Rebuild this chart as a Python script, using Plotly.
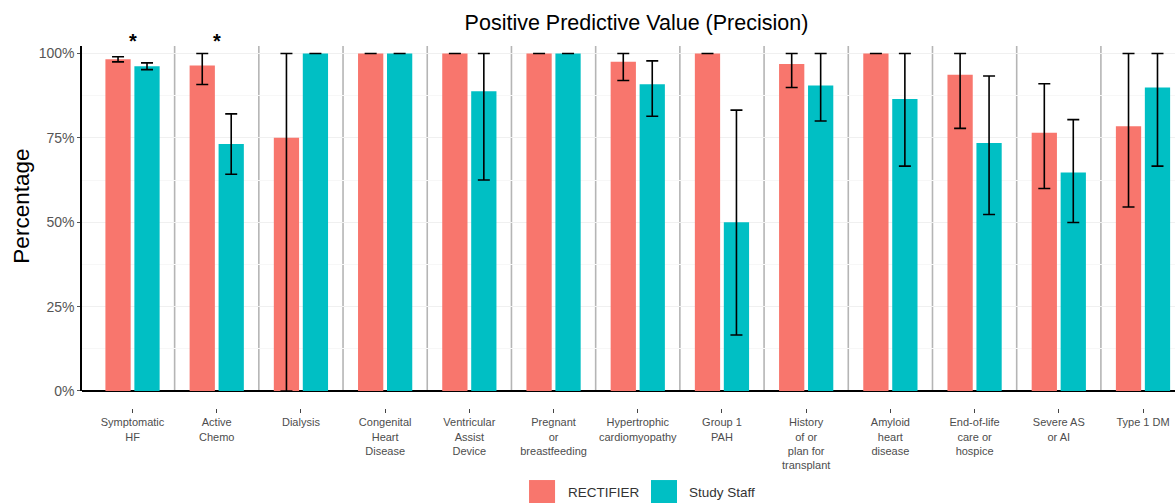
import plotly.graph_objects as go

categories = ["Symptomatic<br>HF", "Active<br>Chemo", "Dialysis", "Congenital<br>Heart<br>Disease",
              "Ventricular<br>Assist<br>Device", "Pregnant<br>or<br>breastfeeding",
              "Hypertrophic<br>cardiomyopathy", "Group 1<br>PAH", "History<br>of or<br>plan for<br>transplant",
              "Amyloid<br>heart<br>disease", "End-of-life<br>care or<br>hospice", "Severe AS<br>or AI", "Type 1 DM"]

rect_val = [98.3, 96.4, 75.0, 100, 100, 100, 97.5, 100, 96.9, 100, 93.7, 76.5, 78.4]
rect_lo = [97.5, 90.8, 0.0, 100, 100, 100, 92.0, 100, 89.9, 100, 77.8, 60.0, 54.5]
rect_hi = [99.0, 100, 100, 100, 100, 100, 100, 100, 100, 100, 100, 91.0, 100]

staff_val = [96.2, 73.2, 100, 100, 88.8, 100, 90.9, 50.0, 90.5, 86.5, 73.5, 64.7, 89.9]
staff_lo = [95.2, 64.2, 100, 100, 62.5, 100, 81.4, 16.6, 80.0, 66.6, 52.3, 49.9, 66.6]
staff_hi = [97.2, 82.1, 100, 100, 100, 100, 97.8, 83.2, 100, 100, 93.3, 80.4, 100]

significant = [categories[0], categories[1]]

y_ticks = [0, 25, 50, 75, 100]
y_ticklabels = ["0%", "25%", "50%", "75%", "100%"]

series_names = ["RECTIFIER", "Study Staff"]
colors = ["#F8766D", "#00BFC4"]

Y_TOP = 102.2

fig = go.Figure()
for name, vals, lo, hi, col, off in [
    (series_names[0], rect_val, rect_lo, rect_hi, colors[0], -0.322),
    (series_names[1], staff_val, staff_lo, staff_hi, colors[1], 0.022),
]:
    fig.add_trace(go.Bar(
        x=categories, y=vals, name=name, marker=dict(color=col, line=dict(width=0)),
        offset=off, width=0.30, showlegend=False,
        error_y=dict(type="data", symmetric=False,
                     array=[h - v for h, v in zip(hi, vals)],
                     arrayminus=[v - l for v, l in zip(vals, lo)],
                     color="black", thickness=1.6, width=6),
    ))

shapes = []
for i in range(len(categories) - 1):
    shapes.append(dict(type="line", xref="x", yref="y", x0=i + 0.5, x1=i + 0.5, y0=0, y1=Y_TOP,
                       line=dict(color="#b5b5b5", width=1.6), layer="below"))

# legend keys
legend_items = [(series_names[0], colors[0], 0.409, 0.4328, 0.4428),
                (series_names[1], colors[1], 0.5206, 0.5444, 0.5535)]
annotations = []
for name, col, x0, x1, xt in legend_items:
    shapes.append(dict(type="rect", xref="paper", yref="paper", x0=x0, x1=x1, y0=-0.27, y1=-0.199,
                       fillcolor=col, line=dict(width=0)))
    annotations.append(dict(text=name, xref="paper", yref="paper", x=xt, y=-0.233, xanchor="left",
                            yanchor="middle", showarrow=False,
                            font=dict(size=13.5, color="#333333", family="Liberation Sans")))

for c in significant:
    annotations.append(dict(text="<b>*</b>", x=c, y=1.013, xref="x", yref="paper", showarrow=False,
                            font=dict(size=20, color="black", family="Liberation Sans"), yanchor="middle"))

# y-axis title
annotations.append(dict(text="Percentage", xref="paper", yref="paper", x=-0.0549, y=0.559,
                        xanchor="center", yanchor="middle", textangle=-90, showarrow=False,
                        font=dict(size=22.5, color="black", family="Liberation Sans")))

fig.update_layout(
    width=1175, height=503,
    margin=dict(l=82, r=0, t=46, b=95),
    paper_bgcolor="white", plot_bgcolor="white",
    barmode="overlay",
    font=dict(family="Liberation Sans", color="#4d4d4d"),
    title=dict(text="Positive Predictive Value (Precision)", x=0.5417, xanchor="center",
               y=1 - 22 / 503, yanchor="middle", yref="container",
               font=dict(size=21.5, color="black", family="Liberation Sans")),
    shapes=shapes, annotations=annotations,
)
fig.update_xaxes(range=[-0.6, 12.38], anchor="free", position=0, showline=False,
                 ticks="outside", ticklen=4, tickcolor="#444444", tickwidth=1,
                 showgrid=False, tickfont=dict(size=11, color="#4d4d4d"), tickangle=0)
fig.update_yaxes(range=[0, Y_TOP], domain=[0.047, 1], tickvals=y_ticks, ticktext=y_ticklabels,
                 showline=True, linecolor="black", linewidth=1.5,
                 ticks="outside", ticklen=3, tickcolor="#555555",
                 showgrid=True, gridcolor="#f0f0f0", gridwidth=1,
                 zeroline=True, zerolinecolor="black", zerolinewidth=1.5,
                 minor=dict(tickvals=[12.5, 37.5, 62.5, 87.5], showgrid=True, gridcolor="#f7f7f7", gridwidth=0.8),
                 tickfont=dict(size=14, color="#555555"))

fig.write_html("out.html", config={"displayModeBar": False},
               post_script="document.body.style.margin='0';document.body.style.overflow='hidden';")
